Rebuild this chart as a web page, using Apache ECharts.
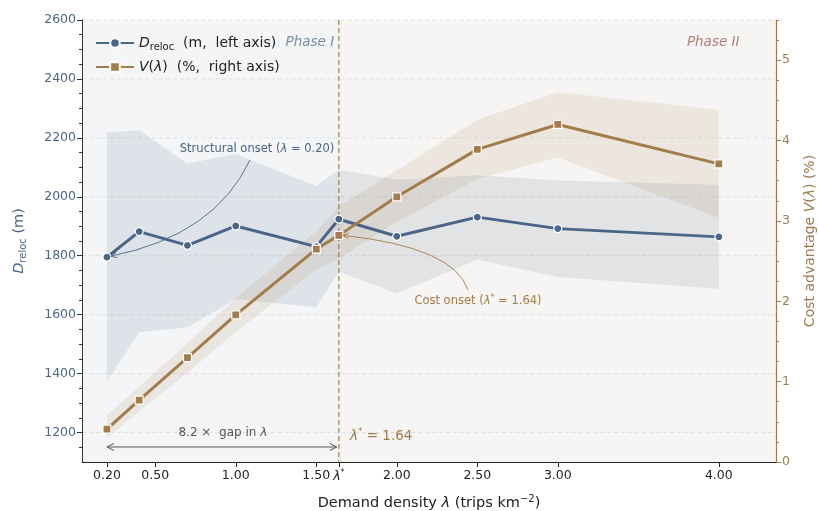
<!DOCTYPE html>
<html><head><meta charset="utf-8">
<script src="https://cdn.jsdelivr.net/npm/echarts@6/dist/echarts.min.js"></script>
<style>html,body{margin:0;padding:0;background:#fff}#c{width:818px;height:511px}</style>
</head><body><div id="c"></div>
<script>
// ---- data ----
const lambdas = [0.2, 0.4, 0.7, 1.0, 1.5, 1.64, 2.0, 2.5, 3.0, 4.0];
const dReloc  = [1795, 1882, 1835, 1901, 1831, 1924, 1866, 1931, 1892, 1864];
const dLow    = [1373, 1540, 1557, 1652, 1625, 1746, 1673, 1786, 1728, 1688];
const dHigh   = [2219, 2225, 2113, 2145, 2037, 2092, 2059, 2073, 2055, 2041];
const vAdv    = [0.41, 0.77, 1.30, 1.83, 2.65, 2.82, 3.30, 3.89, 4.20, 3.71];
const vLow    = [0.30, 0.63, 1.11, 1.62, 2.39, 2.53, 2.99, 3.52, 3.79, 3.04];
const vHigh   = [0.58, 0.94, 1.48, 2.04, 2.87, 3.18, 3.63, 4.26, 4.60, 4.38];
const lambdaStar = 1.64;
const xTickValues = [0.2, 0.5, 1.0, 1.5, 1.64, 2.0, 2.5, 3.0, 4.0];
const xTickLabels = ['0.20', '0.50', '1.00', '1.50', '{i|λ}{sup|*}', '2.00', '2.50', '3.00', '4.00'];
const leftTicks  = [1200, 1400, 1600, 1800, 2000, 2200, 2400, 2600];
const rightTicks = [0, 1, 2, 3, 4, 5];

// ---- layout / style ----
const X_MIN = 0.045, X_MAX = 4.355, L_MIN = 1100, L_MAX = 2600, R_MIN = 0, R_MAX = 5.5;
const BLUE = '#4a6587', BROWN = '#a27c4a', BROWN_AX = '#9c7a4e';
const FONT = 'DejaVu Sans';
const leftMinor = []; for (let v = 1150; v <= 2600; v += 50) if (leftTicks.indexOf(v) < 0) leftMinor.push(v);
const rightMinor = []; for (let k = 1; k <= 22; k++) { const v = k * 0.25; if (k % 4 !== 0) rightMinor.push(v); }

function arrowHead(tip, from, len, halfW, color, lw) {
  const dx = tip[0] - from[0], dy = tip[1] - from[1], d = Math.hypot(dx, dy);
  const ux = dx / d, uy = dy / d, bx = tip[0] - ux * len, by = tip[1] - uy * len;
  return { type: 'polyline', shape: { points: [[bx - uy * halfW, by + ux * halfW], tip, [bx + uy * halfW, by - ux * halfW]] },
           style: { stroke: color, fill: null, lineWidth: lw || 1 } };
}

function renderBg(params, api) {
  const tl = api.coord([X_MIN, L_MAX]), br = api.coord([X_MAX, L_MIN]), s = api.coord([lambdaStar, L_MIN]);
  const ch = [
    { type: 'rect', shape: { x: tl[0], y: tl[1], width: s[0] - tl[0], height: br[1] - tl[1] }, style: { fill: '#f3f5f7' } },
    { type: 'rect', shape: { x: s[0], y: tl[1], width: br[0] - s[0], height: br[1] - tl[1] }, style: { fill: '#f6f5f3' } }
  ];
  leftTicks.forEach(v => {
    const a = api.coord([X_MIN, v]), b = api.coord([X_MAX, v]);
    ch.push({ type: 'line', shape: { x1: a[0], y1: a[1], x2: b[0], y2: b[1] }, style: { stroke: '#dadada', lineWidth: 0.8, lineDash: [4, 3] } });
  });
  return { type: 'group', children: ch };
}

function bandRenderer(lo, hi, color) {
  return function (params, api) {
    const pts = [];
    for (let i = 0; i < lambdas.length; i++) pts.push(api.coord([lambdas[i], hi[i]]));
    for (let i = lambdas.length - 1; i >= 0; i--) pts.push(api.coord([lambdas[i], lo[i]]));
    return { type: 'polygon', shape: { points: pts }, style: { fill: color } };
  };
}

function renderStar(params, api) {
  const a = api.coord([lambdaStar, L_MAX]), b = api.coord([lambdaStar, L_MIN]);
  return { type: 'line', shape: { x1: a[0], y1: a[1], x2: b[0], y2: b[1] }, style: { stroke: '#a88a64', lineWidth: 1.4, lineDash: [5, 3] } };
}

function renderAnnotLeft(params, api) {
  const ch = [];
  // Structural onset
  const sStart = api.coord([1.088, 2125]), sCtrl = api.coord([0.871, 1870]);
  const pt = api.coord([lambdas[0], dReloc[0]]); const sEnd = [pt[0] + 4, pt[1] - 1];
  ch.push({ type: 'bezierCurve', shape: { x1: sStart[0], y1: sStart[1], x2: sEnd[0], y2: sEnd[1], cpx1: sCtrl[0], cpy1: sCtrl[1] },
            style: { stroke: BLUE, fill: null, lineWidth: 0.9 } });
  ch.push(arrowHead(sEnd, sCtrl, 6, 2.8, BLUE, 0.9));
  const sTxt = api.coord([1.132, 2162]);
  ch.push({ type: 'text', x: sTxt[0], y: sTxt[1], style: { text: 'Structural onset ({i|λ} = 0.20)', fill: BLUE, fontSize: 11.5, fontFamily: FONT,
            align: 'center', verticalAlign: 'middle', rich: { i: { fontStyle: 'italic', fontSize: 11.5, fontFamily: FONT, fill: BLUE } } } });
  // gap double arrow
  const g0 = api.coord([lambdas[0], 1151]), g1r = api.coord([lambdaStar, 1151]); const g1 = [g1r[0] - 2, g1r[1]];
  ch.push({ type: 'line', shape: { x1: g0[0], y1: g0[1], x2: g1[0], y2: g1[1] }, style: { stroke: '#555', lineWidth: 1 } });
  ch.push(arrowHead(g0, g1, 7, 3.5, '#555', 1));
  ch.push(arrowHead(g1, g0, 7, 3.5, '#555', 1));
  const gT = api.coord([0.92, 1199]);
  ch.push({ type: 'text', x: gT[0], y: gT[1], style: { text: '8.2 ×  gap in {i|λ}', fill: '#555', fontSize: 12, fontFamily: FONT,
            align: 'center', verticalAlign: 'middle', rich: { i: { fontStyle: 'italic', fontSize: 12, fontFamily: FONT, fill: '#555' } } } });
  // lambda star label
  const lT = api.coord([1.709, 1188]);
  ch.push({ type: 'text', x: lT[0], y: lT[1], style: { text: '{i|λ}{sup|*} = 1.64', fill: BROWN, fontSize: 13.5, fontFamily: FONT,
            align: 'left', verticalAlign: 'middle',
            rich: { i: { fontStyle: 'italic', fontSize: 13.5, fontFamily: FONT, fill: BROWN }, sup: { fontSize: 9, fontFamily: FONT, fill: BROWN, padding: [0, 0, 8, 0] } } } });
  // phase labels
  const p1 = api.coord([1.46, 2522]), p2 = api.coord([3.965, 2522]);
  ch.push({ type: 'text', x: p1[0], y: p1[1], style: { text: 'Phase I', fill: '#7a8ba3', fontSize: 13.5, fontStyle: 'italic', fontFamily: FONT, align: 'center', verticalAlign: 'middle' } });
  ch.push({ type: 'text', x: p2[0], y: p2[1], style: { text: 'Phase II', fill: '#b0807a', fontSize: 13.5, fontStyle: 'italic', fontFamily: FONT, align: 'center', verticalAlign: 'middle' } });
  return { type: 'group', children: ch };
}

function renderAnnotRight(params, api) {
  const ch = [];
  const cStart = api.coord([2.442, 2.14]), cCtrl = api.coord([2.355, 2.675]);
  const pt = api.coord([lambdaStar, vAdv[5]]); const cEnd = [pt[0] + 4, pt[1]];
  ch.push({ type: 'bezierCurve', shape: { x1: cStart[0], y1: cStart[1], x2: cEnd[0], y2: cEnd[1], cpx1: cCtrl[0], cpy1: cCtrl[1] },
            style: { stroke: BROWN, fill: null, lineWidth: 0.9 } });
  ch.push(arrowHead(cEnd, cCtrl, 6, 2.8, BROWN, 0.9));
  const t = api.coord([2.504, 2.0]);
  ch.push({ type: 'text', x: t[0], y: t[1], style: { text: 'Cost onset ({i|λ}{sup|*} = 1.64)', fill: BROWN, fontSize: 11.5, fontFamily: FONT,
            align: 'center', verticalAlign: 'middle',
            rich: { i: { fontStyle: 'italic', fontSize: 11.5, fontFamily: FONT, fill: BROWN }, sup: { fontSize: 8, fontFamily: FONT, fill: BROWN, padding: [0, 0, 7, 0] } } } });
  return { type: 'group', children: ch };
}

const chart = echarts.init(document.getElementById('c'), null, { renderer: 'canvas' });
const axisFont = { fontFamily: FONT, fontSize: 12.5 };
chart.setOption({
  animation: false,
  backgroundColor: '#ffffff',
  textStyle: { fontFamily: FONT },
  grid: { left: 82, right: 42, top: 20, bottom: 49, containLabel: false, outerBoundsMode: 'none' },
  legend: {
    data: ['Dreloc', 'V'], orient: 'vertical', left: 90, top: 31, itemWidth: 38, itemHeight: 12, itemGap: 8,
    textStyle: { fontSize: 14, color: '#222', fontFamily: FONT,
      rich: { i: { fontStyle: 'italic', fontSize: 14, fontFamily: FONT, color: '#222' },
              s: { fontSize: 10, fontFamily: FONT, color: '#222', padding: [8, 0, 0, 0] } } },
    formatter: n => n === 'Dreloc' ? '{i|D}{s|reloc}  (m,  left axis)' : '{i|V}({i|λ})  (%,  right axis)'
  },
  xAxis: {
    type: 'value', min: X_MIN, max: X_MAX, z: 10,
    axisLine: { lineStyle: { color: '#222', width: 1 } },
    axisTick: { customValues: xTickValues, length: 5, lineStyle: { color: '#222' } },
    axisLabel: Object.assign({ customValues: xTickValues, color: '#222', margin: 7,
      formatter: v => { for (let i = 0; i < xTickValues.length; i++) if (Math.abs(v - xTickValues[i]) < 1e-6) return xTickLabels[i]; return ''; },
      rich: { i: { fontStyle: 'italic', fontSize: 12.5, fontFamily: FONT, color: '#222' }, sup: { fontSize: 8, fontFamily: FONT, color: '#222', padding: [0, 0, 7, 0] } } }, axisFont),
    splitLine: { show: false },
    name: 'Demand density {i|λ} (trips km{sup|−2})', nameLocation: 'middle', nameGap: 32,
    nameTextStyle: { fontSize: 14.5, color: '#222', fontFamily: FONT,
      rich: { i: { fontStyle: 'italic', fontSize: 14.5, fontFamily: FONT, color: '#222' }, sup: { fontSize: 10, fontFamily: FONT, color: '#222', padding: [0, 0, 8, 0] } } }
  },
  yAxis: [
    { type: 'value', position: 'left', min: L_MIN, max: L_MAX, z: 10,
      axisLine: { show: true, lineStyle: { color: '#333', width: 1 } },
      axisTick: { customValues: leftTicks, length: 5, lineStyle: { color: '#333' } },
      axisLabel: Object.assign({ customValues: leftTicks, color: BLUE, margin: 6, formatter: v => String(v) }, axisFont),
      splitLine: { show: false },
      name: '{i|D}{s|reloc} (m)', nameLocation: 'middle', nameGap: 54, nameRotate: 90,
      nameTextStyle: { fontSize: 14.5, color: BLUE, fontFamily: FONT,
        rich: { i: { fontStyle: 'italic', fontSize: 14.5, fontFamily: FONT, color: BLUE }, s: { fontSize: 10, fontFamily: FONT, color: BLUE, padding: [8, 0, 0, 0] } } } },
    { type: 'value', position: 'right', min: R_MIN, max: R_MAX, z: 10,
      axisLine: { show: true, lineStyle: { color: BROWN_AX, width: 1.2 } },
      axisTick: { customValues: rightTicks, length: 5, lineStyle: { color: BROWN_AX } },
      axisLabel: Object.assign({ customValues: rightTicks, color: BROWN_AX, margin: 6, formatter: v => String(v) }, axisFont),
      splitLine: { show: false },
      name: 'Cost advantage {i|V}({i|λ}) (%)', nameLocation: 'middle', nameGap: 27, nameRotate: 90,
      nameTextStyle: { fontSize: 14, color: BROWN_AX, fontFamily: FONT,
        rich: { i: { fontStyle: 'italic', fontSize: 14, fontFamily: FONT, color: BROWN_AX } } } },
    { type: 'value', position: 'left', min: L_MIN, max: L_MAX, z: 10,
      axisLine: { show: false }, axisLabel: { show: false }, splitLine: { show: false },
      axisTick: { show: true, customValues: leftMinor, length: 3, lineStyle: { color: '#333' } } },
    { type: 'value', position: 'right', min: R_MIN, max: R_MAX, z: 10,
      axisLine: { show: false }, axisLabel: { show: false }, splitLine: { show: false },
      axisTick: { show: true, customValues: rightMinor, length: 3, lineStyle: { color: BROWN_AX } } }
  ],
  series: [
    { type: 'custom', name: 'bg', yAxisIndex: 0, z: 1, silent: true, data: [[X_MIN, L_MIN]], renderItem: renderBg },
    { type: 'custom', name: 'dband', yAxisIndex: 0, z: 1, silent: true, data: [[lambdas[0], dLow[0]]], renderItem: bandRenderer(dLow, dHigh, 'rgba(74,101,135,0.12)') },
    { type: 'custom', name: 'vband', yAxisIndex: 1, z: 1, silent: true, data: [[lambdas[0], vLow[0]]], renderItem: bandRenderer(vLow, vHigh, 'rgba(162,124,74,0.12)') },
    { type: 'custom', name: 'star', yAxisIndex: 0, z: 1, silent: true, data: [[lambdaStar, L_MIN]], renderItem: renderStar },
    { type: 'line', name: 'Dreloc', yAxisIndex: 0, z: 3, data: lambdas.map((x, i) => [x, dReloc[i]]),
      symbol: 'circle', symbolSize: 8, showAllSymbol: true,
      lineStyle: { color: BLUE, width: 3 }, itemStyle: { color: BLUE, borderColor: '#fff', borderWidth: 1.2 } },
    { type: 'line', name: 'V', yAxisIndex: 1, z: 3, data: lambdas.map((x, i) => [x, vAdv[i]]),
      symbol: 'rect', symbolSize: 8, showAllSymbol: true,
      lineStyle: { color: BROWN, width: 3 }, itemStyle: { color: BROWN, borderColor: '#fff', borderWidth: 1.2 } },
    { type: 'custom', name: 'annL', yAxisIndex: 0, z: 4, silent: true, data: [[X_MIN, L_MIN]], renderItem: renderAnnotLeft },
    { type: 'custom', name: 'annR', yAxisIndex: 1, z: 4, silent: true, data: [[X_MIN, R_MIN]], renderItem: renderAnnotRight }
  ]
});
</script></body></html>
